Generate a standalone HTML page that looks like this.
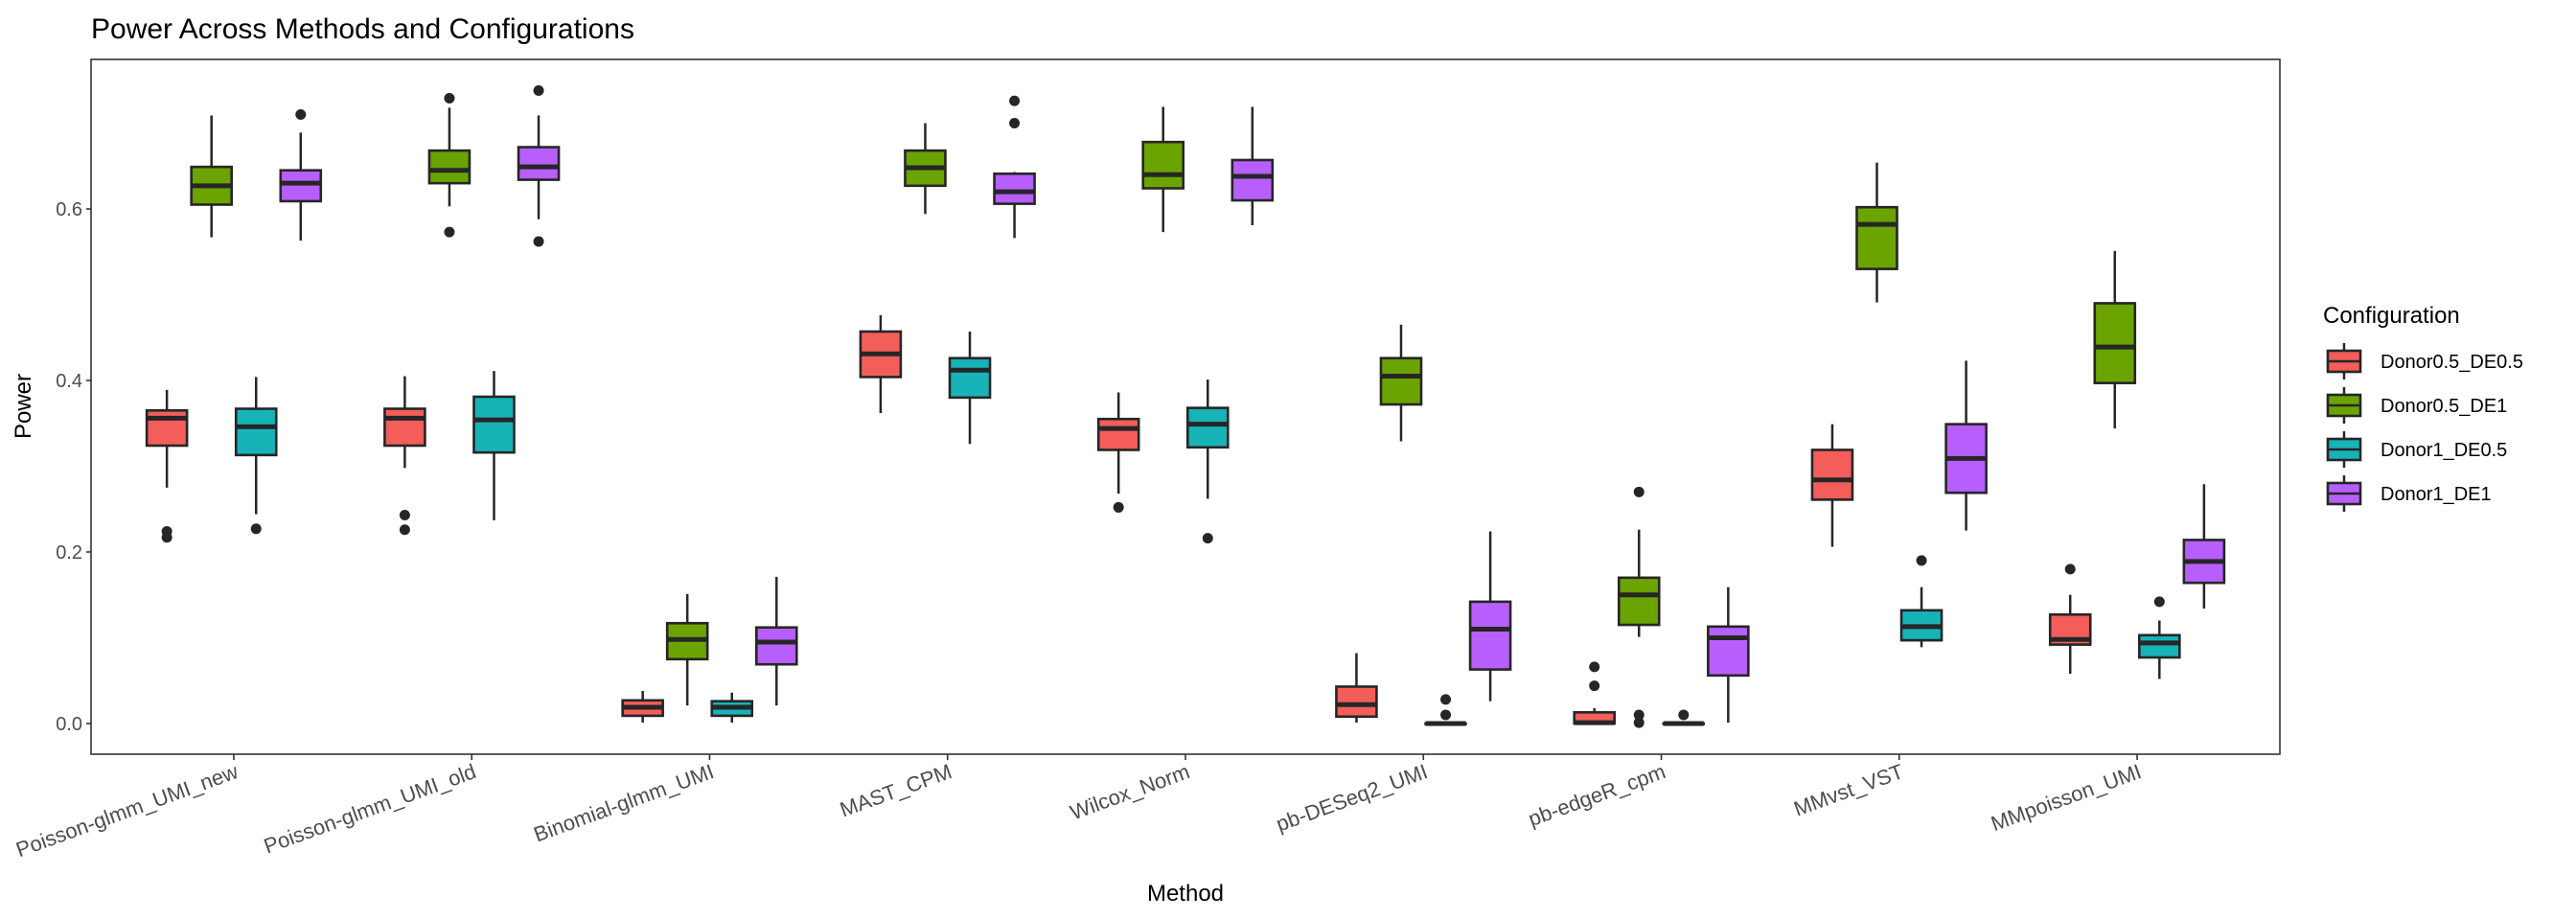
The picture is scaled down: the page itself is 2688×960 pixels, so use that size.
<!DOCTYPE html>
<html><head><meta charset="utf-8"><style>
html,body{margin:0;padding:0;background:#fff;}
svg{display:block;font-family:"Liberation Sans",Arial,sans-serif;}
</style></head><body>
<svg id="chart" width="2688" height="960" viewBox="0 0 2688 960">
<text x="95" y="40" font-size="30" fill="#000">Power Across Methods and Configurations</text>
<rect x="95" y="62" width="2284" height="725" fill="#fff" stroke="#333" stroke-width="1.6"/>
<g id="yaxis"></g>
<g id="xaxis"></g>
<g id="boxes"></g>
<text transform="translate(32,424) rotate(-90)" text-anchor="middle" font-size="24" fill="#000">Power</text>
<text x="1237" y="940" text-anchor="middle" font-size="24" fill="#000">Method</text>
<g id="legend">
<text x="2424" y="337" font-size="24" fill="#000">Configuration</text>
</g>
</svg>
<script>
const methods = ["Poisson-glmm_UMI_new","Poisson-glmm_UMI_old","Binomial-glmm_UMI","MAST_CPM","Wilcox_Norm","pb-DESeq2_UMI","pb-edgeR_cpm","MMvst_VST","MMpoisson_UMI"];
const configs = ["Donor0.5_DE0.5","Donor0.5_DE1","Donor1_DE0.5","Donor1_DE1"];
const fills = ["#F35E5A","#6BA300","#17B3B7","#B75FFC"];
const yTicks = [0.0,0.2,0.4,0.6];
// each stat: [lowWhisker, q1, median, q3, highWhisker]
const statsRed = [[.275,.324,.356,.365,.389],[.298,.324,.356,.367,.405],[.001,.009,.019,.027,.038],[.362,.404,.431,.457,.476],[.268,.319,.344,.355,.386],[.001,.008,.022,.043,.082],[0,0,.001,.013,.018],[.206,.261,.284,.319,.349],[.058,.092,.098,.127,.150]];
const statsGreen = [[.567,.605,.627,.649,.709],[.603,.630,.645,.668,.718],[.021,.075,.098,.117,.151],[.594,.627,.648,.668,.700],[.573,.624,.640,.678,.719],[.329,.372,.405,.426,.465],[.101,.115,.150,.170,.226],[.491,.530,.582,.602,.654],[.344,.397,.439,.490,.551]];
const statsTeal = [[.244,.313,.346,.367,.404],[.237,.316,.354,.381,.411],[.001,.009,.019,.026,.036],[.326,.380,.412,.426,.457],[.262,.322,.349,.368,.401],[0,0,0,0,0],[0,0,0,0,0],[.089,.097,.113,.132,.159],[.052,.077,.094,.103,.120]];
const statsPurple = [[.563,.609,.630,.645,.689],[.588,.634,.649,.672,.709],[.021,.069,.095,.112,.171],[.566,.606,.620,.641,.643],[.581,.610,.638,.657,.719],[.026,.063,.110,.142,.224],[.001,.056,.100,.113,.159],[.225,.269,.309,.349,.423],[.134,.164,.189,.214,.279]];
const outRed = [[.224,.217],[.243,.226],[],[],[.252],[],[.066,.044],[],[.180]];
const outGreen = [[],[.729,.573],[],[],[],[],[.270,.010,.001],[],[]];
const outTeal = [[.227],[],[],[],[.216],[.028,.010],[.010],[.190],[.142]];
const outPurple = [[.710],[.738,.562],[],[.726,.700],[],[],[],[],[]];
const stats = [statsRed,statsGreen,statsTeal,statsPurple];
const outs = [outRed,outGreen,outTeal,outPurple];

const NS="http://www.w3.org/2000/svg";
const X0=95,X1=2379,Y0=62,Y1=787;
const xMin=0.4,xMax=methods.length+0.6;
const yMin=-0.0358,yMax=0.7743;
function xs(v){return X0+(v-xMin)/(xMax-xMin)*(X1-X0);}
function ys(v){return Y1-(v-yMin)/(yMax-yMin)*(Y1-Y0);}
function mk(tag,attrs,parent){const e=document.createElementNS(NS,tag);for(const k in attrs)e.setAttribute(k,attrs[k]);parent.appendChild(e);return e;}
const unit=(X1-X0)/(xMax-xMin);
const dodge=0.75/4*unit, bw=42;

const ya=document.getElementById('yaxis');
yTicks.forEach(t=>{
  const y=ys(t);
  const l=mk('line',{x1:X0-5,x2:X0,y1:y,y2:y,stroke:'#333','stroke-width':1.6},ya);
  
  
  const tx=mk('text',{x:X0-9,y:y+7,'text-anchor':'end','font-size':20,fill:'#4d4d4d'},ya);
  tx.textContent=t.toFixed(1);
  
  
});
const xa=document.getElementById('xaxis');
methods.forEach((m,i)=>{
  const x=xs(i+1);
  const l=mk('line',{x1:x,x2:x,y1:Y1,y2:Y1+6,stroke:'#333','stroke-width':1.6},xa);
  
  
  const tx=mk('text',{transform:`translate(${x+6},${Y1+24}) rotate(-20)`,'text-anchor':'end','font-size':22,fill:'#4d4d4d'},xa);
  tx.textContent=m;
  
  
});
const bg=document.getElementById('boxes');
stats.forEach((ser,c)=>{
  ser.forEach((s,i)=>{
    const cx=xs(i+1)+(c-1.5)*dodge;
    const g=mk('g',{},bg);
    
    
    mk('line',{x1:cx,x2:cx,y1:ys(s[4]),y2:ys(s[3]),stroke:'#262626','stroke-width':2.5},g);
    mk('line',{x1:cx,x2:cx,y1:ys(s[1]),y2:ys(s[0]),stroke:'#262626','stroke-width':2.5},g);
    mk('rect',{x:cx-bw/2,y:ys(s[3]),width:bw,height:Math.max(0.5,ys(s[1])-ys(s[3])),fill:fills[c],stroke:'#262626','stroke-width':2.6},g);
    mk('line',{x1:cx-bw/2,x2:cx+bw/2,y1:ys(s[2]),y2:ys(s[2]),stroke:'#262626','stroke-width':5},g);
    outs[c][i].forEach(o=>{
      const p=mk('circle',{cx:cx,cy:ys(o),r:5.5,fill:'#262626'},g);
      
      
    });
  });
});
const lg=document.getElementById('legend');
configs.forEach((c,i)=>{
  const cy=377+i*46, cx=2446;
  const g=mk('g',{},lg);
  
  
  mk('line',{x1:cx,x2:cx,y1:cy-19,y2:cy+19,stroke:'#262626','stroke-width':2.5},g);
  mk('rect',{x:2429,y:cy-11,width:34,height:22,fill:fills[i],stroke:'#262626','stroke-width':2.6},g);
  mk('line',{x1:2429,x2:2463,y1:cy,y2:cy,stroke:'#262626','stroke-width':2.5},g);
  const t=mk('text',{x:2484,y:cy+7,'font-size':20,fill:'#000'},g);
  t.textContent=c;
});
</script>
</body></html>
